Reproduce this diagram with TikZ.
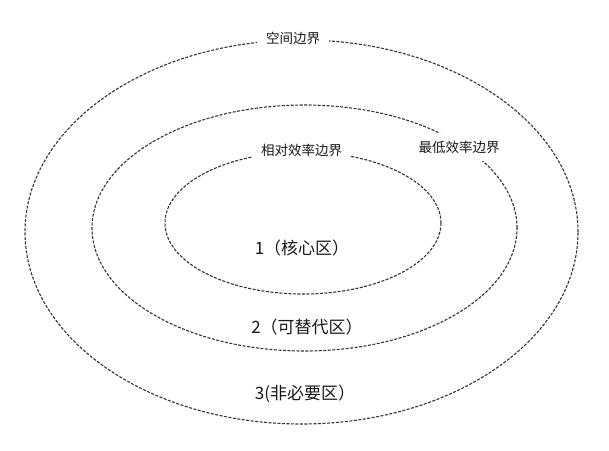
\documentclass[tikz,border=0pt]{standalone}
\usepackage{fontspec}
\setmainfont{Noto Sans CJK SC}
\usetikzlibrary{shapes.geometric}
\begin{document}
\begin{tikzpicture}[x=1pt,y=-1pt,
  zone/.style={ellipse, draw=black!80, line width=1.1pt, dash pattern=on 3pt off 1.5pt, inner sep=0pt},
  edgelabel/.style={fill=white, inner xsep=9pt, inner ysep=8pt, font=\fontsize{13.5}{16}\selectfont, text=black!90},
  zonelabel/.style={inner sep=0pt, font=\fontsize{17}{20}\selectfont, text=black!90}]
  \useasboundingbox (0,0) rectangle (609,450);
  \node[zone, minimum width=553pt, minimum height=384pt] (outer) at (301.5,232) {};
  \node[zone, minimum width=425pt, minimum height=246pt] (middle) at (304.5,228) {};
  \node[zone, minimum width=276pt, minimum height=142pt] (inner) at (303,223) {};
  \node[edgelabel] (lspace) at (293,38) {空间边界};
  \node[edgelabel] (lrel) at (301.5,150) {相对效率边界};
  \node[edgelabel] (lmin) at (459,147) {最低效率边界};
  \node[zonelabel] (z1) at (302,248) {1（核心区）};
  \node[zonelabel] (z2) at (307,327) {2（可替代区）};
  \node[zonelabel] (z3) at (305,394) {3(非必要区）};
\end{tikzpicture}
\end{document}
